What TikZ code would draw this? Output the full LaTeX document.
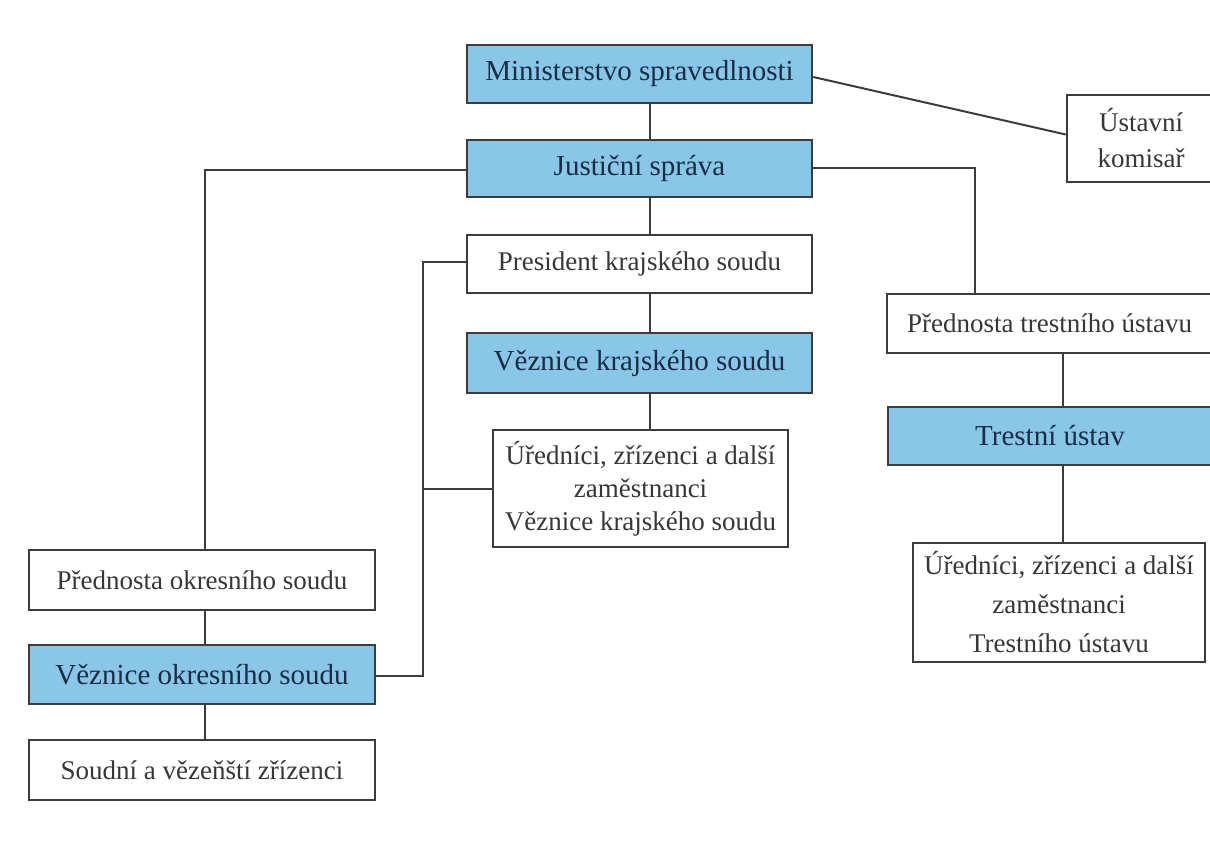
\documentclass[tikz,border=0pt]{standalone}
\usepackage{fontspec}
\setmainfont{Liberation Serif}
\definecolor{boxblue}{RGB}{137,198,232}
\definecolor{linegray}{RGB}{60,60,60}
\definecolor{navy}{RGB}{25,45,70}
\definecolor{txtgray}{RGB}{55,55,55}
\begin{document}
\begin{tikzpicture}[x=0.5pt,y=-0.5pt,
  base/.style={draw=linegray,line width=1.3pt,inner sep=0pt,align=center,
    font=\fontsize{13.5}{16.5}\selectfont},
  bluebox/.style={base,fill=boxblue,text=navy,font=\fontsize{14.5}{17}\selectfont},
  whitebox/.style={base,fill=white,text=txtgray},
  conn/.style={draw=linegray,line width=1pt}]
\useasboundingbox[fill=white] (0,0) rectangle (1210,852);

\node[bluebox,minimum width=172.5pt,minimum height=29pt] (min) at (639.5,74) {Ministerstvo spravedlnosti};
\node[whitebox,minimum width=74pt,minimum height=43.5pt,font=\fontsize{13.5}{18}\selectfont] (ust) at (1141,138.5) {Ústavní\\komisař};
\node[bluebox,minimum width=172.5pt,minimum height=28.5pt] (jus) at (639.5,168.5) {Justiční správa};
\node[whitebox,minimum width=172.5pt,minimum height=29pt] (pres) at (639.5,264) {President krajského soudu};
\node[bluebox,minimum width=172.5pt,minimum height=30pt] (vk) at (639.5,363) {Věznice krajského soudu};
\node[whitebox,minimum width=147.5pt,minimum height=58.5pt] (uk) at (640.5,488.5) {Úředníci, zřízenci a další\\zaměstnanci\\Věznice krajského soudu};
\node[whitebox,minimum width=162.5pt,minimum height=29.5pt] (pt) at (1049.5,323.5) {Přednosta trestního ústavu};
\node[bluebox,minimum width=162pt,minimum height=29pt] (tu) at (1050,436) {Trestní ústav};
\node[whitebox,minimum width=146pt,minimum height=59.5pt,font=\fontsize{13.5}{19.5}\selectfont] (ut) at (1059,602.5) {Úředníci, zřízenci a další\\zaměstnanci\\Trestního ústavu};
\node[whitebox,minimum width=173pt,minimum height=30pt] (po) at (202,580) {Přednosta okresního soudu};
\node[bluebox,minimum width=173pt,minimum height=29.5pt] (vo) at (202,674.5) {Věznice okresního soudu};
\node[whitebox,minimum width=173pt,minimum height=30pt] (sz) at (202,770) {Soudní a vězeňští zřízenci};

\coordinate (spine) at (650,0);
\coordinate (lcol) at (205,0);
\coordinate (rcol) at (975,0);
\coordinate (tcol) at (1063,0);
\coordinate (brk) at (423,0);

% central column
\draw[conn] (min.south -| spine) -- (jus.north -| spine);
\draw[conn] (jus.south -| spine) -- (pres.north -| spine);
\draw[conn] (pres.south -| spine) -- (vk.north -| spine);
\draw[conn] (vk.south -| spine) -- (uk.north -| spine);
% ministry to commissioner
\draw[conn] ([yshift=-1.5pt]min.east) -- ([yshift=2pt]ust.west);
% left branch
\draw[conn] ([yshift=-0.5pt]jus.west) -| (po.north -| lcol);
\draw[conn] (po.south -| lcol) -- (vo.north -| lcol);
\draw[conn] (vo.south -| lcol) -- (sz.north -| lcol);
% right branch
\draw[conn] ([yshift=0.5pt]jus.east) -| (pt.north -| rcol);
\draw[conn] (pt.south -| tcol) -- (tu.north -| tcol);
\draw[conn] (tu.south -| tcol) -- (ut.north -| tcol);
% bracket
\draw[conn] ([yshift=1pt]pres.west) -| ([yshift=-0.75pt]vo.east -| brk) -- ([yshift=-0.75pt]vo.east);
\draw[conn] (uk.west) -- (uk.west -| brk);
\end{tikzpicture}
\end{document}
